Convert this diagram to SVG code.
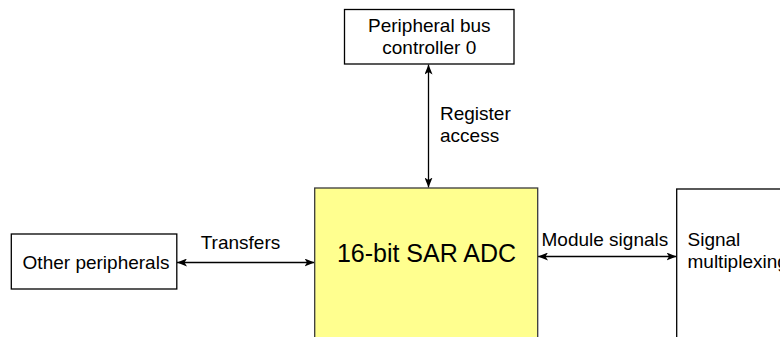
<svg xmlns="http://www.w3.org/2000/svg" width="780" height="337" viewBox="0 0 780 337">
<defs>
<style>
.box{fill:#ffffff;stroke:#000000;stroke-width:1.3}
.adc{fill:#ffff8f;stroke:#3a3a3a;stroke-width:1.3}
.t{font-family:"Liberation Sans",Arial,Helvetica,sans-serif;font-size:19px;fill:#000000}
.big{font-family:"Liberation Sans",Arial,Helvetica,sans-serif;font-size:25px;fill:#000000}
.conn{stroke:#000000;stroke-width:1.3;fill:none;marker-start:url(#ah);marker-end:url(#ah)}
</style>
<marker id="ah" viewBox="0 0 10 8" refX="10" refY="4" markerWidth="10" markerHeight="8" markerUnits="userSpaceOnUse" orient="auto-start-reverse">
<path d="M0,0 L10,4 L0,8 L2.5,4 Z" fill="#000000"/>
</marker>
</defs>
<rect width="780" height="337" fill="#ffffff"/>
<g id="connectors">
<line class="conn" x1="428.5" y1="64.5" x2="428.5" y2="187.5"/>
<line class="conn" x1="177" y1="262.5" x2="314.5" y2="262.5"/>
<line class="conn" x1="538" y1="256.5" x2="676.5" y2="256.5"/>
<text class="t" x="440" y="119.5">Register</text>
<text class="t" x="440" y="142">access</text>
<text class="t" x="240.5" y="249" text-anchor="middle">Transfers</text>
<text class="t" x="541.5" y="245.5">Module signals</text>
</g>
<g id="pbc0">
<rect class="box" x="344.5" y="9.5" width="169.5" height="54.5"/>
<text class="t" x="429.3" y="31.7" text-anchor="middle">Peripheral bus</text>
<text class="t" x="429.3" y="54.3" text-anchor="middle">controller 0</text>
</g>
<g id="other">
<rect class="box" x="11.3" y="234" width="165.5" height="55"/>
<text class="t" x="96" y="269.3" text-anchor="middle">Other peripherals</text>
</g>
<g id="adc">
<rect class="adc" x="314.7" y="188" width="223" height="160"/>
<text class="big" x="426.5" y="262" text-anchor="middle">16-bit SAR ADC</text>
</g>
<g id="sigmux">
<rect class="box" x="676.7" y="189" width="120" height="160"/>
<text class="t" x="687.5" y="245.5">Signal</text>
<text class="t" x="687.5" y="268.3">multiplexing</text>
</g>
</svg>
